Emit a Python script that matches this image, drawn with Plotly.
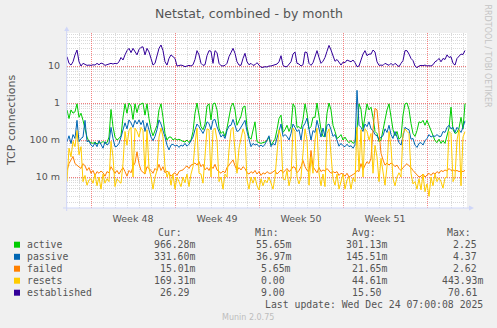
import pandas as pd
import plotly.graph_objects as go

# ---- data: 4-hourly samples starting Sat 2025-11-22 00:00 ----
active = [
    0.65, 0.38, 0.65, 0.53, 0.58, 0.95, 0.41, 0.53, 0.34, 0.19, 0.12, 0.09, 0.085,
    0.081, 0.088, 0.078, 0.085, 0.081, 0.092, 0.081, 0.085, 0.12, 0.67, 0.23, 0.12,
    0.10, 0.11, 0.13, 0.41, 0.95, 0.53, 1.0, 0.83, 0.36, 0.95, 0.55, 0.88, 0.95, 1.0,
    0.47, 0.95, 0.38, 0.19, 0.13, 0.19, 0.25, 0.65, 0.95, 0.41, 0.15, 0.10, 0.12,
    0.12, 0.10, 0.11, 0.10, 0.105, 0.096, 0.092, 0.088, 0.10, 0.085, 0.10, 0.17, 0.53,
    1.0, 0.53, 0.23, 0.19, 0.27, 0.83, 0.95, 0.35, 0.95, 1.0, 0.65, 0.21, 0.15, 0.17,
    0.125, 0.21, 0.43, 0.80, 1.0, 0.65, 0.25, 0.34, 0.44, 0.77, 0.83, 0.23, 0.12,
    0.105, 0.17, 0.31, 0.09, 0.085, 0.081, 0.085, 0.088, 0.096, 0.12,
    0.073, 0.085, 0.105, 0.19, 0.38, 0.47, 0.16, 0.19, 0.25, 0.17, 0.23, 0.95, 0.77,
    0.22, 0.23, 0.2, 0.36, 0.95, 0.53, 0.2, 0.23, 0.41, 0.41, 1.0, 0.38, 0.19, 0.125,
    0.13, 0.53, 1.0, 0.65, 0.25, 0.17, 0.11, 0.12, 0.14, 0.10, 0.12, 0.096, 0.085,
    0.096, 0.081, 0.09, 0.19, 0.95, 0.67, 0.2, 0.47, 0.95, 0.65,
    0.77, 0.41, 0.17, 0.15, 0.09, 0.10, 0.19, 0.29, 0.65, 0.95, 0.44, 0.19, 0.13,
    0.17, 0.105, 0.12, 0.47, 0.95, 1.0, 0.67, 0.28, 0.15, 0.125, 0.18, 0.31, 0.29,
    0.34, 0.25, 0.34, 0.24, 0.19, 0.12, 0.096, 0.085, 0.105, 0.081, 0.096, 0.081,
    0.125, 0.21, 0.77, 0.19, 0.15, 0.16, 0.21, 0.41, 0.2, 0.966,
]
passive = [
    0.09, 0.13, 0.08, 0.14, 0.11, 0.34, 0.09, 0.11, 0.12, 0.34, 0.09, 0.096, 0.073,
    0.066, 0.085, 0.066, 0.096, 0.073, 0.06, 0.09, 0.073, 0.081, 0.22, 0.11, 0.066,
    0.068, 0.081, 0.12, 0.19, 0.29, 0.2, 0.35, 0.29, 0.22, 0.34, 0.27, 0.35, 0.26,
    0.34, 0.17, 0.29, 0.19, 0.12, 0.096, 0.125, 0.19, 0.35, 0.27, 0.19, 0.12, 0.073,
    0.054,
    0.073, 0.077, 0.068, 0.073, 0.063, 0.073, 0.068, 0.081, 0.068, 0.077, 0.096, 0.12,
    0.19, 0.27, 0.23, 0.19, 0.15, 0.2, 0.31, 0.28, 0.19, 0.34, 0.36, 0.23, 0.17, 0.12,
    0.14, 0.11, 0.18, 0.24, 0.25, 0.36, 0.25, 0.17, 0.18, 0.23, 0.28, 0.34, 0.17,
    0.10, 0.066, 0.081, 0.073, 0.077, 0.066, 0.073, 0.066, 0.077, 0.10, 0.13,
    0.066, 0.081, 0.073, 0.11, 0.16, 0.27, 0.125, 0.14, 0.125, 0.10, 0.15, 0.27, 0.22,
    0.17, 0.19, 0.10, 0.23, 0.28, 0.39, 0.19, 0.10, 0.18, 0.16, 0.34, 0.19, 0.12,
    0.21, 0.12, 0.25, 0.27, 0.19, 0.125, 0.14, 0.09, 0.068, 0.081, 0.07, 0.066, 0.077,
    0.066, 0.07, 0.06, 0.073, 2.2, 0.25, 0.22, 0.17, 0.27, 0.23, 0.31,
    0.2, 0.18, 0.14, 0.13, 0.105, 0.12, 0.13, 0.2, 0.16, 0.25, 0.14, 0.11, 0.17, 0.12,
    0.085, 0.073, 0.14, 0.22, 0.2, 0.19, 0.105, 0.11, 0.073, 0.063, 0.081, 0.085,
    0.073, 0.096, 0.11, 0.14, 0.12, 0.13, 0.125, 0.14, 0.125, 0.125, 0.17, 0.16, 0.22,
    0.25, 0.2, 0.22, 0.16, 0.22, 0.19, 0.16, 0.22, 0.3316,
]
failed = [
    0.015, 0.023, 0.029, 0.036, 0.023, 0.021, 0.019, 0.017, 0.023, 0.020, 0.015, 0.018,
    0.0126, 0.015, 0.011, 0.014, 0.0126, 0.0145, 0.013, 0.0105, 0.014, 0.013, 0.019,
    0.015, 0.0126, 0.015, 0.012, 0.015, 0.018, 0.014, 0.0105, 0.015, 0.013, 0.019,
    0.024, 0.048, 0.023, 0.015, 0.013, 0.012, 0.019, 0.017, 0.015, 0.0126, 0.017,
    0.015, 0.022, 0.015, 0.019, 0.013, 0.0145, 0.0126,
    0.0105, 0.012, 0.013, 0.011, 0.014, 0.015, 0.0155, 0.018, 0.020, 0.017, 0.021,
    0.022, 0.024, 0.021, 0.026, 0.019, 0.022, 0.0155, 0.018, 0.015, 0.020, 0.017,
    0.022, 0.0155, 0.014, 0.0126, 0.0145, 0.013, 0.018, 0.021, 0.024, 0.029, 0.020,
    0.015, 0.018, 0.0155, 0.019, 0.017, 0.013, 0.012, 0.014, 0.0126, 0.015, 0.012,
    0.014, 0.011, 0.013, 0.012, 0.014, 0.0126,
    0.0126, 0.014, 0.015, 0.012, 0.014, 0.0155, 0.013, 0.015, 0.017, 0.014, 0.0155,
    0.019, 0.018, 0.013, 0.015, 0.019, 0.028, 0.019, 0.015, 0.014, 0.052, 0.019, 0.015,
    0.013, 0.018, 0.014, 0.0155, 0.0145, 0.017, 0.015, 0.0126, 0.014, 0.013, 0.014,
    0.011, 0.0126, 0.012, 0.0105, 0.0126, 0.010, 0.011, 0.012, 0.0126, 0.015, 0.014,
    0.023, 0.0155, 0.021, 0.026, 0.023,
    0.032, 0.19, 0.72, 0.65, 0.19, 0.044, 0.029, 0.021, 0.024, 0.021, 0.024, 0.022,
    0.019, 0.021, 0.017, 0.015, 0.018, 0.021, 0.023, 0.020, 0.018, 0.015, 0.013, 0.011,
    0.010, 0.0105, 0.012, 0.010, 0.011, 0.0126, 0.011, 0.013, 0.012, 0.014, 0.0126,
    0.015, 0.014, 0.0155, 0.0145, 0.017, 0.015, 0.0155, 0.0145, 0.015, 0.014, 0.0145,
    0.014, 0.01501,
]
resets = [
    0.0075, 0.06, 0.035, 0.092, 0.066, 0.18, 0.04, 0.066, 0.0075, 0.011, 0.006, 0.0083,
    0.009, 0.0068, 0.012, 0.0058, 0.010, 0.0047, 0.012, 0.0068, 0.009, 0.0075, 0.092,
    0.035, 0.0055, 0.009, 0.0075, 0.0068, 0.023, 0.17, 0.072, 0.18, 0.22, 0.010, 0.21,
    0.17, 0.12, 0.22, 0.18, 0.0126, 0.19, 0.017, 0.010, 0.0047, 0.010, 0.015, 0.12,
    0.21, 0.12, 0.019, 0.010, 0.014,
    0.006, 0.012, 0.0047, 0.010, 0.0075, 0.0055, 0.010, 0.007, 0.012, 0.0055, 0.012,
    0.019, 0.081, 0.21, 0.0126, 0.012, 0.0068, 0.044, 0.2, 0.19, 0.010, 0.18, 0.21,
    0.10, 0.0075, 0.010, 0.0047, 0.012, 0.010, 0.054, 0.19, 0.22, 0.054, 0.0126, 0.06,
    0.12, 0.2, 0.14, 0.0083, 0.0047, 0.010, 0.0068, 0.010, 0.0058, 0.0045, 0.009,
    0.0058, 0.0083, 0.007, 0.010,
    0.0065, 0.0047, 0.010, 0.035, 0.19, 0.12, 0.009, 0.0083, 0.015, 0.0058, 0.010,
    0.21, 0.17, 0.010, 0.0065, 0.010, 0.044, 0.2, 0.10, 0.006, 0.035, 0.0126, 0.10,
    0.21, 0.0126, 0.0058, 0.012, 0.0055, 0.15, 0.2, 0.04, 0.009, 0.006, 0.012, 0.0047,
    0.0075, 0.012, 0.0047, 0.0083, 0.010, 0.0047, 0.0095, 0.0075, 0.22, 0.015, 0.19,
    0.010, 0.2, 0.17, 0.10,
    0.15, 0.0126, 0.072, 0.035, 0.0075, 0.032, 0.014, 0.006, 0.019, 0.17, 0.066, 0.009,
    0.0058, 0.010, 0.013, 0.010, 0.15, 0.2, 0.17, 0.15, 0.0126, 0.0065, 0.0075, 0.0047,
    0.009, 0.0045, 0.012, 0.004, 0.0065, 0.003, 0.010, 0.0058, 0.012, 0.0075, 0.0095,
    0.0075, 0.005, 0.0095, 0.010, 0.17, 0.15, 0.0075, 0.010, 0.10, 0.19, 0.0058, 0.12,
    0.1693,
]
established = [
    17.9, 11.8, 10.6, 13, 20, 27, 13, 10, 11.8, 11, 10.4, 10.6, 10.4, 10.8, 10.6, 11.8,
    10.8, 12, 11.5, 10.4, 10.8, 11, 11.8, 11.3, 11.8, 11.5, 13, 17, 14.5, 20, 26, 30,
    23, 30, 24, 20, 28, 32, 33, 20, 30, 24, 16, 10.6, 11.8, 20, 30, 37, 26, 13, 10.6,
    16,
    20, 17.9, 16, 10, 10.4, 10.6, 10.2, 9.6, 10, 10.4, 10, 10.8, 15, 26, 20, 11.8, 10.4,
    10.8, 19, 26, 25, 11.8, 26, 23, 11.8, 10.2, 10, 10.4, 11.8, 17.9, 23, 30, 22, 13,
    10.6, 10.4, 16, 22, 13, 10.8, 11.8, 10.4, 10.8, 12.3, 10.6, 9.2, 9.2, 9.6, 9.4, 10,
    10, 10.4, 10.8, 11.3, 13, 19, 10.4, 9.6, 9.6, 11.3, 13, 21, 24, 11.8, 11.3, 10,
    10.8, 24, 23, 11.8, 10.4, 12.3, 19, 26, 17, 11.8, 13.5, 17, 25, 36, 27, 17.9, 13.4,
    15, 12.3, 10.6, 12.7, 12.3, 14.5, 14, 13, 14.5, 12.3, 9.6, 10, 14.5, 21, 26, 19, 21,
    21, 27, 24, 13, 10.4, 10.6, 10.4, 11.8, 10.8, 10.4, 11.8, 10.4, 11.8, 10.4, 9.6,
    11.8, 14, 26, 26, 21, 16, 14, 10, 9.0, 10, 10.4, 10.2, 10.6, 10, 10.2, 10, 10.8, 13,
    14, 16, 13, 16, 15, 20, 17, 17.9, 11.8, 10.6, 16, 17.9, 21, 20.5, 26.29,
]

series_names = ["active", "passive", "failed", "resets", "established"]
series_colors = ["#00CC00", "#0066B3", "#FF8000", "#FFCC00", "#330099"]
series_values = [active, passive, failed, resets, established]

# legend statistics (Cur, Min, Avg, Max)
stat_headers = ["Cur:", "Min:", "Avg:", "Max:"]
stat_cur = ["966.28m", "331.60m", "15.01m", "169.31m", "26.29 "]
stat_min = ["55.65m", "36.97m", "5.65m", "0.00 ", "9.00 "]
stat_avg = ["301.13m", "145.51m", "21.65m", "44.61m", "15.50 "]
stat_max = ["2.25 ", "4.37 ", "2.62 ", "443.93m", "70.61 "]

ytick_vals = [0.01, 0.1, 1, 10]
ytick_text = ["10 m", "100 m", "1", "10"]

title_text = "Netstat, combined - by month"
ylabel_text = "TCP connections"
last_update = "Last update: Wed Dec 24 07:00:08 2025"
side_text = "RRDTOOL / TOBI OETIKER"
footer_text = "Munin 2.0.75"

for v in series_values:
    assert len(v) == 200, len(v)

# ---- geometry (pixels) ----
W, H = 497, 328
L, R, T, B = 67, 467, 33, 208
FONT = "DejaVu Sans"
MONO = "DejaVu Sans Mono"
TXT = "#555555"
AXIS_C = "#CFD6F8"


def px(x):
    return (x - L) / (R - L)


def py(y):
    return (B - y) / (B - T)


start = pd.Timestamp("2025-11-22 00:00")
end = start + pd.Timedelta(hours=400 * 2)
times = pd.date_range(start, periods=200, freq="4h")

fig = go.Figure()
for name, color, vals in zip(series_names, series_colors, series_values):
    fig.add_trace(go.Scatter(
        x=times, y=vals, mode="lines", name=name,
        line=dict(color=color, width=1), hoverinfo="skip", showlegend=False,
    ))

grid_major = "rgba(245,100,100,0.8)"
grid_minor = "#d9d9d9"

fig.update_layout(
    width=W, height=H,
    margin=dict(l=L, r=W - R, t=T, b=H - B, pad=0),
    paper_bgcolor="#F0F0F0", plot_bgcolor="#FFFFFF",
    showlegend=False,
    font=dict(family=FONT, size=10, color=TXT),
    xaxis=dict(
        type="date", range=[start, end],
        tick0="2025-11-24", dtick=7 * 86400000,
        tickformat="Week %V", ticklabelmode="period",
        ticks="", showline=False, zeroline=False,
        showgrid=True, gridcolor=grid_major, griddash="1px,1px", gridwidth=1,
        minor=dict(dtick=86400000, showgrid=True, gridcolor=grid_minor,
                   griddash="1px,1px", gridwidth=1, ticks=""),
        tickfont=dict(family=FONT, size=9.5, color=TXT),
        ticklabelstandoff=3,
    ),
    yaxis=dict(
        type="log", range=[-2.838, 1.892],
        tickmode="array", tickvals=ytick_vals, ticktext=ytick_text,
        ticks="", showline=False, zeroline=False,
        showgrid=True, gridcolor=grid_major, griddash="1px,1px", gridwidth=1,
        minor=dict(dtick="D1", showgrid=True, gridcolor=grid_minor,
                   griddash="1px,1px", gridwidth=1, ticks=""),
        tickfont=dict(family=FONT, size=9.5, color=TXT),
        ticklabelstandoff=6,
    ),
)

ann = []


def text(x, y, s, size=10, family=FONT, color=TXT, xa="left", ya="middle", angle=0):
    ann.append(dict(
        x=px(x), y=py(y), xref="paper", yref="paper", text=s, showarrow=False,
        xanchor=xa, yanchor=ya, textangle=angle, borderpad=0, borderwidth=0,
        font=dict(family=family, size=size, color=color),
    ))


text(248.5, 13.5, title_text, size=12.5, xa="center")
text(11, 120, ylabel_text, size=11, xa="center", angle=-90)
text(487.5, 56, side_text, size=8, color="#c4c4c4", xa="center", angle=90)
text(248, 317, footer_text, size=8, color="#bdbdbd", xa="center")

# legend table
nb = lambda s: s.replace(" ", "\u00a0")
header_x = [158.3, 255, 351.7, 446.7]
for hx, h in zip(header_x, stat_headers):
    text(hx, 232.3, h, size=9.8, family=MONO)

row_y = [244.7, 256.8, 268.7, 280.7, 292.7]
col_right = [194.5, 291.3, 387, 483]
shapes = []
for k, name in enumerate(series_names):
    yy = row_y[k]
    shapes.append(dict(
        type="rect", xref="paper", yref="paper",
        x0=px(14), x1=px(20), y0=py(yy + 3), y1=py(yy - 3),
        fillcolor=series_colors[k], line=dict(width=0), layer="above",
    ))
    text(26.7, yy, name, size=9.8, family=MONO)
    for cx, col in zip(col_right, [stat_cur, stat_min, stat_avg, stat_max]):
        text(cx, yy, nb(col[k]), size=9.8, family=MONO, xa="right")

text(483, 304.7, nb(last_update), size=9.8, family=MONO, xa="right")

# rrdtool-style axes with arrows
shapes += [
    dict(type="line", xref="paper", yref="paper", x0=px(66.7), x1=px(66.7),
         y0=py(211), y1=py(30), line=dict(color=AXIS_C, width=1), layer="above"),
    dict(type="line", xref="paper", yref="paper", x0=px(63), x1=px(470),
         y0=py(208), y1=py(208), line=dict(color=AXIS_C, width=1), layer="above"),
    dict(type="path", xref="paper", yref="paper",
         path=f"M {px(64.2)} {py(31)} L {px(69.2)} {py(31)} L {px(66.7)} {py(26.5)} Z",
         fillcolor=AXIS_C, line=dict(width=0), layer="above"),
    dict(type="path", xref="paper", yref="paper",
         path=f"M {px(469)} {py(205.5)} L {px(469)} {py(210.5)} L {px(474)} {py(208)} Z",
         fillcolor=AXIS_C, line=dict(width=0), layer="above"),
]

fig.update_layout(annotations=ann, shapes=shapes)
fig.write_html("out.html", config={"displayModeBar": False})
